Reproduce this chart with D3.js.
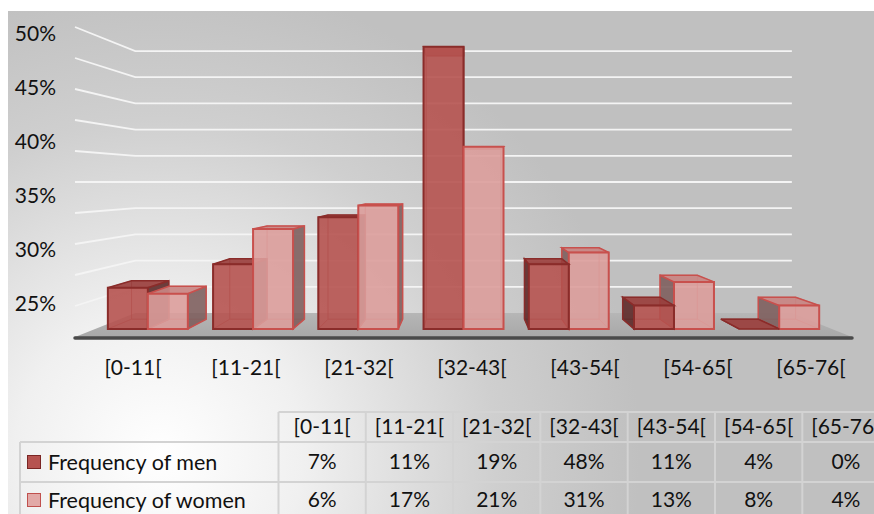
<!DOCTYPE html>
<html>
<head>
<meta charset="utf-8">
<script src="https://cdn.jsdelivr.net/npm/d3@7"></script>
<style>
  body { margin: 0; background: #fff; }
  svg { display: block; font-family: Lato, "Open Sans", sans-serif; }
</style>
</head>
<body>
<div id="chart"></div>
<script>
const width = 874, height = 514;

const categories = ["[0-11[", "[11-21[", "[21-32[", "[32-43[", "[43-54[", "[54-65[", "[65-76["];
const seriesNames = ["Frequency of men", "Frequency of women"];
const menValues = [7, 11, 19, 48, 11, 4, 0];
const womenValues = [6, 17, 21, 31, 13, 8, 4];
const yTickValues = [25, 30, 35, 40, 45, 50];
const gridValues = [5, 10, 15, 20, 25, 30, 35, 40, 45, 50];

const colors = {
    men: {front: "#b65350", top: "#9a3f3d", side: "#5e2a29", stroke: "#8a2c2a", key: "#b65350", keyStroke: "#7a2624"},
    women: {front: "#dc9d9b", top: "#c98583", side: "#7e5f5e", stroke: "#c8504d", key: "#e2a9a7", keyStroke: "#c0504d"}
};

// perspective: front plane (s = 1) projected towards a vanishing point
const vp = {x: 464, y: 182};
const sWall = 0.845, sBarFront = 0.948, sBarBack = 0.885;
const proj = (X, Y, s) => [vp.x + (X - vp.x) * s, vp.y + (Y - vp.y) * s];

const plotLeft = 75, plotRight = 852;
const x = d3.scaleBand().domain(categories).range([plotLeft, plotRight])
    .paddingInner(0.24).paddingOuter(0.12);
const x1 = d3.scaleBand().domain(seriesNames).range([0, x.bandwidth()]);
const y = d3.scaleLinear().domain([0, 50]).range([337, 27]);

// axis labels on their own positions
const yLabel = d3.scaleLinear().domain([25, 50]).range([304, 34]);
const xLabel = d3.scaleBand().domain(categories).range([76.5, 867.5]);

const svg = d3.select("#chart").append("svg")
    .attr("width", width)
    .attr("height", height);

const defs = svg.append("defs");
const bg = defs.append("radialGradient")
    .attr("id", "bgGrad")
    .attr("gradientUnits", "userSpaceOnUse")
    .attr("cx", 160).attr("cy", 455).attr("r", 480);
[[0, "#ffffff"], [0.3, "#f0f0f0"], [0.7, "#cfcfcf"], [1, "#c0c0c0"]].forEach(function (d) {
    bg.append("stop").attr("offset", d[0]).attr("stop-color", d[1]);
});
const floorGrad = defs.append("linearGradient")
    .attr("id", "floorGrad").attr("x1", 0).attr("x2", 0).attr("y1", 0).attr("y2", 1);
floorGrad.append("stop").attr("offset", 0).attr("stop-color", "#b6b6b6");
floorGrad.append("stop").attr("offset", 1).attr("stop-color", "#a8a8a8");

svg.append("rect")
    .attr("x", 8).attr("y", 11)
    .attr("width", width - 8).attr("height", height - 11)
    .attr("fill", "url(#bgGrad)");

const line = d3.line();

// walls: side wall and back wall gridlines
const grid = svg.append("g").attr("class", "grid")
    .attr("fill", "none")
    .attr("stroke", "#f4f4f4")
    .attr("stroke-width", 1.8);
grid.selectAll("path")
    .data(gridValues)
    .enter().append("path")
    .attr("d", function (v) {
        return line([proj(plotLeft, y(v), 1), proj(plotLeft, y(v), sWall), proj(plotRight, y(v), sWall)]);
    });

// floor
svg.append("path")
    .attr("d", line([proj(plotLeft, y(0), 1), proj(plotRight, y(0), 1),
        proj(plotRight, y(0), sWall), proj(plotLeft, y(0), sWall)]) + "Z")
    .attr("fill", "url(#floorGrad)");
svg.append("path")
    .attr("d", line([proj(plotLeft, y(0), 1), proj(plotRight, y(0), 1)]))
    .attr("transform", "translate(0,1)")
    .attr("stroke", "#4a4a4a")
    .attr("stroke-width", 3.5)
    .attr("stroke-linecap", "round");

// bars as transparent boxes
const bars = [];
categories.forEach(function (c, i) {
    [["men", menValues[i], seriesNames[0]], ["women", womenValues[i], seriesNames[1]]].forEach(function (d) {
        const x0 = x(c) + x1(d[2]);
        bars.push({cat: c, key: d[0], value: d[1], x0: x0, x1: x0 + x1.bandwidth()});
    });
});
bars.sort(function (a, b) {
    return Math.abs((b.x0 + b.x1) / 2 - vp.x) - Math.abs((a.x0 + a.x1) / 2 - vp.x);
});

const faces = function (d) {
    const pts = s => [[d.x0, y(0)], [d.x1, y(0)], [d.x1, y(d.value)], [d.x0, y(d.value)]]
        .map(p => proj(p[0], p[1], s));
    const f = pts(sBarFront), b = pts(sBarBack);
    const rightVisible = d.x1 < vp.x;
    const left = [f[0], b[0], b[3], f[3]], right = [f[1], b[1], b[2], f[2]];
    return {
        hidden: [b, [f[0], f[1], b[1], b[0]], rightVisible ? left : right],
        side: rightVisible ? right : left,
        top: [f[3], f[2], b[2], b[3]],
        front: f
    };
};

svg.append("g").attr("class", "bars")
    .selectAll("g")
    .data(bars)
    .enter().append("g")
    .each(function (d) {
        const g = d3.select(this);
        const c = colors[d.key];
        const fc = faces(d);
        g.selectAll(".hidden")
            .data(fc.hidden)
            .enter().append("path")
            .attr("class", "hidden")
            .attr("d", p => line(p) + "Z")
            .attr("fill", "none")
            .attr("stroke", c.stroke)
            .attr("stroke-opacity", 0.45)
            .attr("stroke-width", 1);
        g.append("path")
            .attr("d", line(fc.side) + "Z")
            .attr("fill", c.side)
            .attr("fill-opacity", 0.9)
            .attr("stroke", c.stroke)
            .attr("stroke-width", 1.5);
        g.append("path")
            .attr("d", line(fc.top) + "Z")
            .attr("fill", c.top)
            .attr("fill-opacity", 0.92)
            .attr("stroke", c.stroke)
            .attr("stroke-width", 1.5);
        if (d.value > 0) {
            g.append("path")
                .attr("d", line(fc.front) + "Z")
                .attr("fill", c.front)
                .attr("fill-opacity", 0.9)
                .attr("stroke", c.stroke)
                .attr("stroke-width", 2);
        }
    });

// y labels
svg.append("g")
    .attr("font-size", 21)
    .attr("fill", "#111")
    .attr("text-anchor", "end")
    .selectAll("text")
    .data(yTickValues)
    .enter().append("text")
    .attr("x", 56)
    .attr("y", d => yLabel(d))
    .attr("dy", "0.35em")
    .text(d => d + "%");

// category labels
svg.append("g")
    .attr("font-size", 21)
    .attr("fill", "#111")
    .attr("text-anchor", "middle")
    .selectAll("text")
    .data(categories)
    .enter().append("text")
    .attr("x", d => xLabel(d) + xLabel.bandwidth() / 2)
    .attr("y", 368)
    .attr("dy", "0.35em")
    .text(d => d);

// data table
const col = d3.scaleBand().domain(categories).range([278.5, 278.5 + 87.3 * categories.length]);
const rowY = [427, 462, 500];
const table = svg.append("g").attr("class", "table");
const lines = table.append("g")
    .attr("stroke", "#d3d3d3")
    .attr("stroke-width", 2)
    .attr("fill", "none");
lines.append("path").attr("d", line([[col.range()[0], 412], [col.range()[1], 412]]));
lines.append("path").attr("d", line([[20, 442], [col.range()[1], 442]]));
lines.append("path").attr("d", line([[20, 482], [col.range()[1], 482]]));
lines.append("path").attr("d", line([[20, 442], [20, height]]));
lines.selectAll(".vline")
    .data(categories)
    .enter().append("path")
    .attr("class", "vline")
    .attr("d", d => line([[col(d), 412], [col(d), height]]));

table.append("g")
    .attr("font-size", 21)
    .attr("fill", "#111")
    .attr("text-anchor", "middle")
    .selectAll("text")
    .data(categories)
    .enter().append("text")
    .attr("x", d => col(d) + col.bandwidth() / 2)
    .attr("y", rowY[0])
    .attr("dy", "0.35em")
    .text(d => d);

const rows = table.selectAll(".row")
    .data([["men", menValues], ["women", womenValues]])
    .enter().append("g")
    .attr("class", "row")
    .attr("transform", (d, i) => "translate(0," + rowY[i + 1] + ")");

rows.append("rect")
    .attr("x", 27.5).attr("y", -6.5)
    .attr("width", 13).attr("height", 13)
    .attr("fill", d => colors[d[0]].key)
    .attr("stroke", d => colors[d[0]].keyStroke)
    .attr("stroke-width", 1);

rows.append("text")
    .attr("x", 48)
    .attr("dy", "0.35em")
    .attr("font-size", 21.5)
    .attr("fill", "#111")
    .text((d, i) => seriesNames[i]);

rows.each(function (d) {
    d3.select(this).selectAll(".val")
        .data(d[1])
        .enter().append("text")
        .attr("class", "val")
        .attr("x", (v, i) => col(categories[i]) + col.bandwidth() / 2)
        .attr("dy", "0.35em")
        .attr("font-size", 21)
        .attr("fill", "#111")
        .attr("text-anchor", "middle")
        .text(v => v + "%");
});
</script>
</body>
</html>
